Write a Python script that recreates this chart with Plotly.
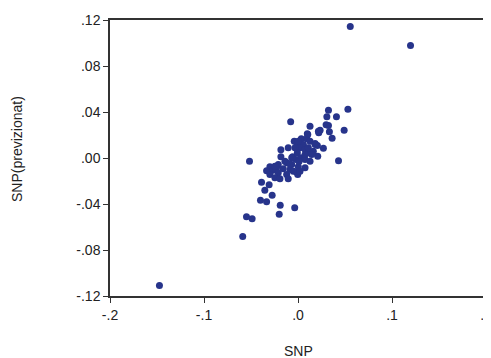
import plotly.graph_objects as go

snp = [0.0556, 0.1197, -0.1474, -0.0588, -0.0548, -0.0488, -0.0516, 0.0531, 0.0324, 0.0307,
       0.0409, -0.0078, 0.0128, 0.0299, 0.0324, 0.0235, 0.0491, 0.0334, 0.0099, 0.0221,
       0.0363, 0.0035, 0.0093, -0.0040, 0.0128, 0.0182, -0.0007, 0.0057, 0.0206, 0.0270,
       -0.0104, -0.0182, 0.0021, 0.0075, -0.0007, 0.0110, 0.0163, 0.0210, -0.0182, -0.0057,
       -0.0021, 0.0029, 0.0075, 0.0128, 0.0431, -0.0210, -0.0121, -0.0067, -0.0299, -0.0228,
       0.0003, 0.0075, -0.0334, -0.0264, -0.0157, -0.0085, -0.0014, -0.0299, -0.0210, -0.0121,
       -0.0003, -0.0246, -0.0192, -0.0104, -0.0388, -0.0307, -0.0353, -0.0275, -0.0399, -0.0334,
       -0.0189, -0.0035, -0.0200, 0.0104, 0.0217, 0.0003, -0.0032, 0.0011, 0.0075, -0.0067,
       -0.0139, -0.0246, -0.0090, 0.0021, -0.0050, 0.0110, 0.0182, 0.0146]

snp_prev = [0.1143, 0.0978, -0.1109, -0.0683, -0.0511, -0.0529, -0.0028, 0.0424, 0.0416, 0.0358,
            0.0358, 0.0315, 0.0277, 0.0289, 0.0283, 0.0242, 0.0242, 0.0228, 0.0210, 0.0219,
            0.0172, 0.0167, 0.0167, 0.0146, 0.0146, 0.0126, 0.0117, 0.0117, 0.0109, 0.0085,
            0.0089, 0.0071, 0.0089, 0.0074, 0.0045, 0.0045, 0.0059, 0.0016, 0.0010, 0.0010,
            -0.0013, 0.0002, -0.0013, -0.0028, -0.0024, -0.0057, -0.0042, -0.0057, -0.0077, -0.0085,
            -0.0077, -0.0085, -0.0111, -0.0106, -0.0094, -0.0100, -0.0123, -0.0143, -0.0129, -0.0143,
            -0.0143, -0.0172, -0.0181, -0.0181, -0.0210, -0.0233, -0.0280, -0.0323, -0.0367, -0.0381,
            -0.0410, -0.0433, -0.0489, 0.0204, 0.0233, 0.0146, 0.0089, -0.0030, 0.0030, 0.0002,
            -0.0028, -0.0071, -0.0050, -0.0115, -0.0115, 0.0089, 0.0117, 0.0030]

x_ticks = [-0.2, -0.1, 0.0, 0.1, 0.2]
x_tick_labels = ["-.2", "-.1", ".0", ".1", ".2"]
y_ticks = [-0.12, -0.08, -0.04, 0.0, 0.04, 0.08, 0.12]
y_tick_labels = ["-.12", "-.08", "-.04", ".00", ".04", ".08", ".12"]
x_title = "SNP"
y_title = "SNP(previzionat)"

font_family = "Liberation Sans, Arial, sans-serif"
text_color = "#222222"

fig = go.Figure(go.Scatter(
    x=snp, y=snp_prev, mode="markers",
    marker=dict(size=7, color="#27348b", line=dict(width=0)),
))

axis_common = dict(
    showgrid=False, zeroline=False, showline=True, mirror=True,
    linecolor="#333333", linewidth=1.5, ticks="outside", ticklen=5,
    tickcolor="#333333", tickwidth=1, automargin=False,
    ticklabeloverflow="allow",
    tickfont=dict(family=font_family, size=14, color=text_color),
)

fig.update_layout(
    width=483, height=350,
    margin=dict(l=102, r=5, t=12, b=62),
    paper_bgcolor="white", plot_bgcolor="white",
    showlegend=False,
    xaxis=dict(range=[-0.2, 0.2], tickvals=x_ticks, ticktext=x_tick_labels, **axis_common),
    yaxis=dict(range=[-0.12, 0.12], tickvals=y_ticks, ticktext=y_tick_labels, **axis_common),
    annotations=[
        dict(text=x_title, xref="paper", yref="paper", x=0.5, y=0, yshift=-55,
             showarrow=False, xanchor="center", yanchor="middle",
             font=dict(family=font_family, size=14, color=text_color)),
        dict(text=y_title, xref="paper", yref="paper", x=0, y=0.5, xshift=-93, yshift=9,
             textangle=-90, showarrow=False, xanchor="center", yanchor="middle",
             font=dict(family=font_family, size=14, color=text_color)),
    ],
)

fig.write_html("out.html")
